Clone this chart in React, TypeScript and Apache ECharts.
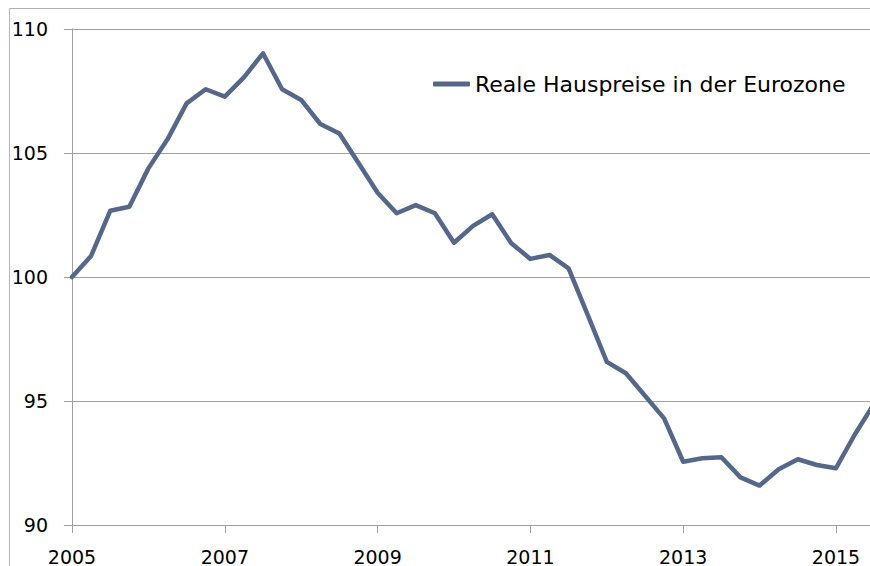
import React, { useEffect, useRef } from "react";
import * as echarts from "echarts";

// Real house prices in the euro area, quarterly, index 2005 Q1 = 100
const startYear = 2005;
const housePrices = [
  100.0, 100.85, 102.67, 102.83,
  104.38, 105.55, 107.0, 107.57,
  107.27, 108.05, 109.02, 107.57,
  107.14, 106.17, 105.79, 104.6,
  103.4, 102.57, 102.9, 102.57,
  101.38, 102.06, 102.53, 101.36,
  100.73, 100.89, 100.35, 98.47,
  96.58, 96.12, 95.21, 94.3,
  92.55, 92.69, 92.73, 91.92,
  91.59, 92.25, 92.65, 92.42,
  92.29, 93.67, 94.9,
];
const quarters = housePrices.map(
  (_, i) => `${startYear + Math.floor(i / 4)} Q${(i % 4) + 1}`
);
const seriesName = "Reale Hauspreise in der Eurozone";
const yMin = 90;
const yMax = 110;
const yStep = 5;

const FONT = "'DejaVu Sans', Verdana, sans-serif";
const LINE_COLOR = "#55688a";
const GRID_COLOR = "#a0a0a0";

export default function App() {
  const ref = useRef<HTMLDivElement>(null);

  useEffect(() => {
    if (!ref.current) return;
    const chart = echarts.init(ref.current, undefined, { renderer: "svg" });
    chart.setOption({
      animation: false,
      backgroundColor: "#ffffff",
      textStyle: { fontFamily: FONT },
      grid: { left: 72, top: 29, right: 25.8, bottom: 41, containLabel: false },
      legend: {
        show: true,
        left: 433,
        top: 73,
        padding: 0,
        itemWidth: 37,
        itemHeight: 5,
        icon: "roundRect",
        itemStyle: { color: LINE_COLOR },
        textStyle: { fontFamily: FONT, fontSize: 22, color: "#000" },
        data: [seriesName],
      },
      xAxis: {
        type: "category",
        data: quarters,
        boundaryGap: false,
        axisLine: { show: true, lineStyle: { color: GRID_COLOR, width: 1 } },
        axisTick: { show: true, interval: 7, length: 8, lineStyle: { color: GRID_COLOR } },
        axisLabel: {
          interval: 7,
          margin: 22,
          fontFamily: FONT,
          fontSize: 19,
          color: "#000",
          formatter: (v: string) => v.slice(0, 4),
        },
        splitLine: { show: false },
      },
      yAxis: {
        type: "value",
        min: yMin,
        max: yMax,
        interval: yStep,
        axisLine: { show: true, lineStyle: { color: GRID_COLOR, width: 1 } },
        axisTick: { show: true, length: 8, lineStyle: { color: GRID_COLOR } },
        axisLabel: {
          margin: 24,
          fontFamily: FONT,
          fontSize: 19,
          color: "#000",
        },
        splitLine: { show: true, lineStyle: { color: GRID_COLOR, width: 1 } },
      },
      graphic: [
        {
          type: "rect",
          silent: true,
          shape: { x: 9.5, y: 8.5, width: 1200, height: 1200 },
          style: { fill: "none", stroke: "#b4b4b4", lineWidth: 1 },
          z: -1,
        },
      ],
      series: [
        {
          name: seriesName,
          type: "line",
          data: housePrices,
          showSymbol: false,
          symbol: "none",
          lineStyle: { color: LINE_COLOR, width: 4.5, cap: "round", join: "round" },
          itemStyle: { color: LINE_COLOR },
        },
      ],
    });
    return () => chart.dispose();
  }, []);

  return (
    <div
      style={{
        position: "fixed",
        left: 0,
        top: 0,
        width: 870,
        height: 566,
        overflow: "hidden",
        background: "#fff",
      }}
    >
      <div ref={ref} style={{ width: 900, height: 566 }} />
    </div>
  );
}
